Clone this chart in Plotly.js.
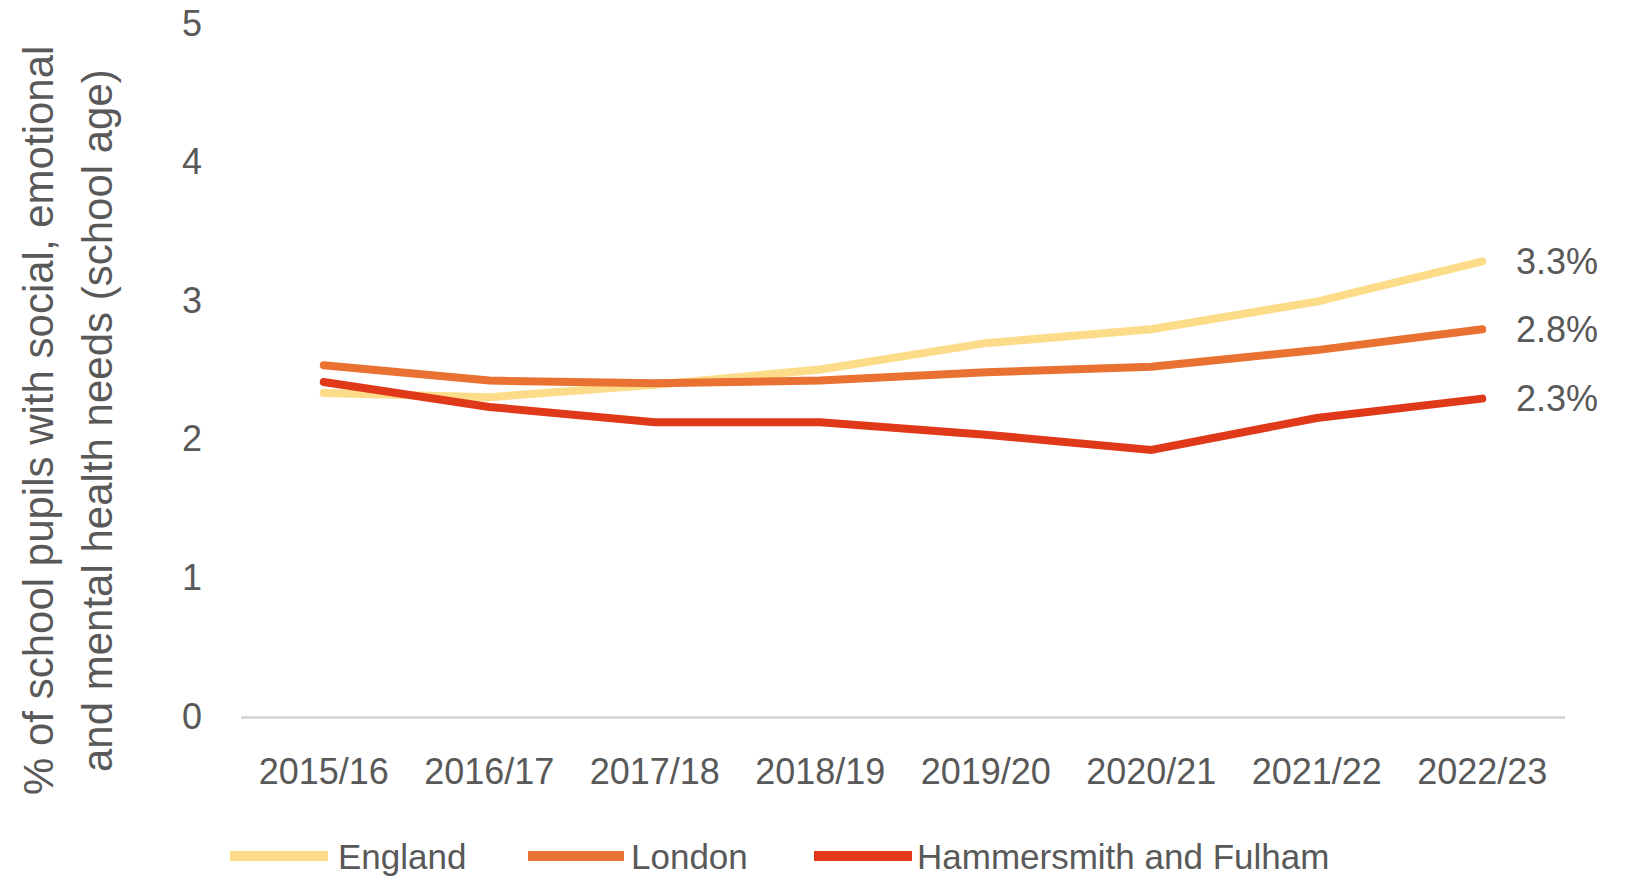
<!DOCTYPE html>
<html>
<head>
<meta charset="utf-8">
<script src="https://cdn.plot.ly/plotly-3.0.1.min.js"></script>
<style>
  html, body { margin: 0; padding: 0; background: #fff; }
  #chart { width: 1632px; height: 878px; }
  .scatterlayer .js-line { stroke-linecap: round; }
</style>
</head>
<body>
<div id="chart"></div>
<script>
// ---- Data ----
const years = ["2015/16", "2016/17", "2017/18", "2018/19", "2019/20", "2020/21", "2021/22", "2022/23"];
const seriesNames = ["England", "London", "Hammersmith and Fulham"];
const england = [2.33, 2.30, 2.39, 2.50, 2.69, 2.79, 2.99, 3.28];
const london = [2.53, 2.42, 2.40, 2.42, 2.48, 2.52, 2.64, 2.79];
const hammersmith = [2.41, 2.23, 2.12, 2.12, 2.03, 1.92, 2.15, 2.29];
const yTickVals = [0, 1, 2, 3, 4, 5];
const yTitleLines = ["% of school pupils with social, emotional", "and mental health needs (school age)"];

// ---- Styles ----
const colors = ["#FDDC89", "#E97132", "#E0391A"];
const allSeries = [england, london, hammersmith];
const textGray = "#595959";
const W = 1632, H = 878;
const M = { l: 241, r: 67, t: 23, b: 162 };
const PW = W - M.l - M.r, PH = H - M.t - M.b;
const px = p => (p - M.l) / PW;       // pixel x -> paper x
const py = p => (H - M.b - p) / PH;   // pixel y -> paper y

const traces = allSeries.map((vals, i) => ({
  type: "scatter",
  mode: "lines",
  x: years,
  y: vals,
  name: seriesNames[i],
  line: { color: colors[i], width: 8 },
  hoverinfo: "x+y+name",
  showlegend: false
}));

const annotations = [];
// end-of-line data labels
allSeries.forEach((vals, i) => {
  const last = vals[vals.length - 1];
  annotations.push({
    xref: "x", yref: "y",
    x: years[years.length - 1], y: last,
    text: last.toFixed(1) + "%",
    showarrow: false,
    xanchor: "left", yanchor: "middle",
    xshift: 32,
    font: { family: "Liberation Sans, Arial, sans-serif", size: 36, color: textGray }
  });
});
// y-axis title (two rotated lines)
const titleX = [38, 97];
yTitleLines.forEach((t, i) => {
  annotations.push({
    xref: "paper", yref: "paper",
    x: px(titleX[i]), y: py(421),
    text: t, textangle: -90,
    showarrow: false,
    xanchor: "center", yanchor: "middle",
    font: { family: "Liberation Sans, Arial, sans-serif", size: 42, color: textGray }
  });
});

// manual legend
const legendLines = [[230, 328], [528, 624], [814, 912]];
const legendText = [337, 630, 916];
const legendY = 856;
const shapes = [];
seriesNames.forEach((n, i) => {
  shapes.push({
    type: "line", xref: "paper", yref: "paper",
    x0: px(legendLines[i][0]), x1: px(legendLines[i][1]),
    y0: py(legendY), y1: py(legendY),
    line: { color: colors[i], width: 10 }
  });
  annotations.push({
    xref: "paper", yref: "paper",
    x: px(legendText[i]), y: py(legendY),
    text: n, showarrow: false,
    xanchor: "left", yanchor: "middle",
    borderpad: 0,
    font: { family: "Liberation Sans, Arial, sans-serif", size: 35, color: textGray }
  });
});

const layout = {
  width: W, height: H,
  margin: M,
  paper_bgcolor: "#ffffff",
  plot_bgcolor: "#ffffff",
  showlegend: false,
  xaxis: {
    type: "category",
    range: [-0.5, years.length - 0.5],
    showgrid: false,
    zeroline: false,
    showline: true,
    linecolor: "#D9D9D9",
    linewidth: 3,
    ticks: "",
    ticklabelstandoff: 22,
    tickfont: { family: "Liberation Sans, Arial, sans-serif", size: 36, color: textGray },
    fixedrange: true
  },
  yaxis: {
    range: [0, 5],
    tickvals: yTickVals,
    ticktext: yTickVals.map(String),
    showgrid: false,
    zeroline: false,
    showline: false,
    ticks: "",
    ticklabelstandoff: 38,
    tickfont: { family: "Liberation Sans, Arial, sans-serif", size: 36, color: textGray },
    fixedrange: true
  },
  annotations: annotations,
  shapes: shapes
};

Plotly.newPlot("chart", traces, layout, { displayModeBar: false, staticPlot: true });
</script>
</body>
</html>
